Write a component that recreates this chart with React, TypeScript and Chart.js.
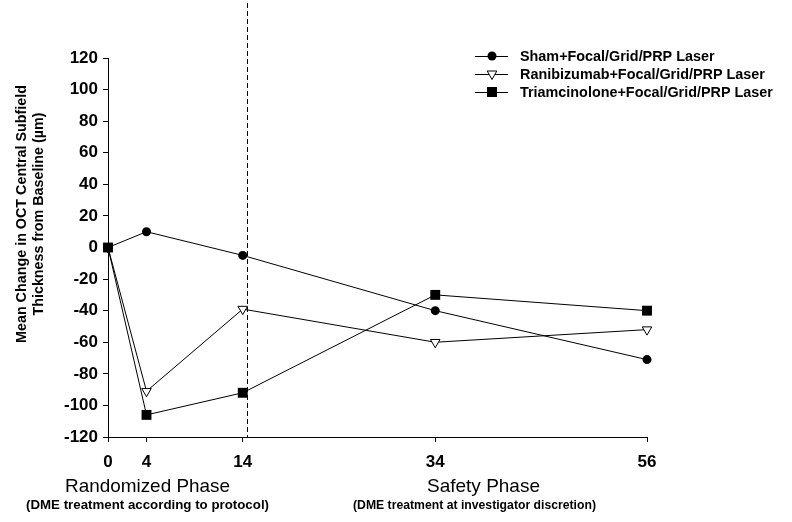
import React, { useEffect, useRef } from "react";
import { Chart, registerables } from "chart.js";

Chart.register(...registerables);

// ---- data ----
const weeks = [0, 4, 14, 34, 56];
const xTickValues = [0, 4, 14, 34, 56];
const seriesNames = [
  "Sham+Focal/Grid/PRP Laser",
  "Ranibizumab+Focal/Grid/PRP Laser",
  "Triamcinolone+Focal/Grid/PRP Laser",
];
const shamValues = [0, 10, -5, -40, -71];
const ranibizumabValues = [0, -91, -39, -60, -52];
const triamcinoloneValues = [0, -106, -92, -30, -40];
const yMin = -120;
const yMax = 120;
const yStep = 20;
const phaseDivider = 14.4;
const yTitleLines = ["Mean Change in OCT Central Subfield", "Thickness from Baseline (\u00b5m)"];
const phaseLabels = ["Randomized Phase", "Safety Phase"];
const phaseNotes = ["(DME treatment according to protocol)", "(DME treatment at investigator discretion)"];

const FONT = '"Liberation Sans", Arial, sans-serif';

function drawMarker(ctx: CanvasRenderingContext2D, kind: string, x: number, y: number) {
  ctx.save();
  ctx.lineWidth = 1;
  ctx.strokeStyle = "#000";
  ctx.fillStyle = "#000";
  if (kind === "circle") {
    ctx.beginPath();
    ctx.arc(x, y, 4.5, 0, Math.PI * 2);
    ctx.fill();
  } else if (kind === "rect") {
    ctx.fillRect(x - 5, y - 5, 10, 10);
  } else {
    ctx.fillStyle = "#fff";
    ctx.beginPath();
    ctx.moveTo(x - 4.8, y - 3);
    ctx.lineTo(x + 4.8, y - 3);
    ctx.lineTo(x, y + 5.5);
    ctx.closePath();
    ctx.fill();
    ctx.stroke();
  }
  ctx.restore();
}

function fitText(
  ctx: CanvasRenderingContext2D,
  text: string,
  weight: string,
  baseSize: number,
  targetWidth: number,
  x: number,
  y: number
) {
  ctx.font = `${weight} ${baseSize}px ${FONT}`;
  const w = ctx.measureText(text).width;
  const sx = targetWidth / w;
  ctx.save();
  ctx.translate(x, y);
  ctx.scale(sx, 1);
  ctx.fillText(text, 0, 0);
  ctx.restore();
}

const decorPlugin = {
  id: "decor",
  beforeDatasetsDraw(chart: any) {
    const ctx = chart.ctx as CanvasRenderingContext2D;
    const xs = chart.scales.x;
    const x = Math.round(xs.getPixelForValue(phaseDivider)) + 0.5;
    ctx.save();
    ctx.strokeStyle = "#000";
    ctx.lineWidth = 1;
    ctx.setLineDash([5, 3]);
    ctx.beginPath();
    ctx.moveTo(x, 3);
    ctx.lineTo(x, chart.chartArea.bottom);
    ctx.stroke();
    ctx.restore();
  },
  afterDraw(chart: any) {
    const ctx = chart.ctx as CanvasRenderingContext2D;
    ctx.save();
    ctx.fillStyle = "#000";
    ctx.textAlign = "center";
    ctx.textBaseline = "middle";

    // y title (rotated)
    const centers = [21.5, 39];
    const widths = [258, 203];
    yTitleLines.forEach((t, i) => {
      ctx.save();
      ctx.translate(centers[i], 214);
      ctx.rotate(-Math.PI / 2);
      fitText(ctx, t, "bold", 15.5, widths[i], 0, 0);
      ctx.restore();
    });

    // phase labels
    fitText(ctx, phaseLabels[0], "normal", 19, 165, 147.5, 487);
    fitText(ctx, phaseLabels[1], "normal", 19, 113, 483.5, 487);
    fitText(ctx, phaseNotes[0], "bold", 13, 243, 147.5, 505.5);
    fitText(ctx, phaseNotes[1], "bold", 13, 243, 474.5, 505.5);

    // legend
    const kinds = ["circle", "tri", "rect"];
    const rows = [56, 74, 92];
    ctx.font = `bold 13px ${FONT}`;
    const ref = ctx.measureText(seriesNames[2]).width;
    const size = (13 * 253) / ref;
    ctx.font = `bold ${size}px ${FONT}`;
    ctx.textAlign = "left";
    seriesNames.forEach((name, i) => {
      const y = rows[i];
      ctx.strokeStyle = "#000";
      ctx.lineWidth = 1;
      ctx.beginPath();
      ctx.moveTo(475, y + 0.5);
      ctx.lineTo(508, y + 0.5);
      ctx.stroke();
      drawMarker(ctx, kinds[i], 492, y);
      ctx.fillStyle = "#000";
      ctx.fillText(name, 520, y + 1);
    });
    ctx.restore();
  },
};

export default function App() {
  const ref = useRef<HTMLCanvasElement | null>(null);
  useEffect(() => {
    if (!ref.current) return;
    const mk = (vals: number[]) => weeks.map((w, i) => ({ x: w, y: vals[i] }));
    const chart = new Chart(ref.current, {
      type: "line",
      data: {
        datasets: [
          {
            label: seriesNames[0],
            data: mk(shamValues),
            borderColor: "#000",
            borderWidth: 1,
            backgroundColor: "#000",
            pointStyle: "circle",
            pointRadius: 4.5,
            pointBorderWidth: 0,
            clip: false,
            order: 1,
          },
          {
            label: seriesNames[1],
            data: mk(ranibizumabValues),
            borderColor: "#000",
            borderWidth: 1,
            backgroundColor: "#fff",
            pointBackgroundColor: "#fff",
            pointBorderColor: "#000",
            pointStyle: "triangle",
            pointRotation: 180,
            pointRadius: 5.5,
            pointBorderWidth: 1,
            clip: false,
            order: 2,
          },
          {
            label: seriesNames[2],
            data: mk(triamcinoloneValues),
            borderColor: "#000",
            borderWidth: 1,
            backgroundColor: "#000",
            pointStyle: "rect",
            pointRadius: 7,
            pointBorderWidth: 0,
            clip: false,
            order: 0,
          },
        ] as any,
      },
      options: {
        responsive: false,
        animation: false,
        layout: { padding: { left: 0, top: 58, right: 145, bottom: 0 } },
        elements: { line: { tension: 0 } },
        plugins: { legend: { display: false }, tooltip: { enabled: false } },
        scales: {
          x: {
            type: "linear",
            min: 0,
            max: 56,
            afterBuildTicks: (s: any) => {
              s.ticks = xTickValues.map((v) => ({ value: v }));
            },
            afterFit: (s: any) => {
              s.height = 85;
            },
            grid: { drawOnChartArea: false, drawTicks: true, tickLength: 5, color: "#000" },
            border: { color: "#000", width: 1 },
            ticks: {
              color: "#000",
              font: { family: FONT, size: 17, weight: "bold" },
              padding: 10,
              maxRotation: 0,
              autoSkip: false,
            },
          },
          y: {
            type: "linear",
            min: yMin,
            max: yMax,
            afterFit: (s: any) => {
              s.width = 108;
            },
            grid: { drawOnChartArea: false, drawTicks: true, tickLength: 5, color: "#000" },
            border: { color: "#000", width: 1 },
            ticks: {
              stepSize: yStep,
              color: "#000",
              font: { family: FONT, size: 17, weight: "bold" },
              padding: 5,
            },
          },
        },
      } as any,
      plugins: [decorPlugin],
    });
    return () => chart.destroy();
  }, []);
  return (
    <div style={{ position: "absolute", left: 0, top: 0, width: 792, height: 522, background: "#fff" }}>
      <canvas ref={ref} width={792} height={522} style={{ display: "block" }} />
    </div>
  );
}
